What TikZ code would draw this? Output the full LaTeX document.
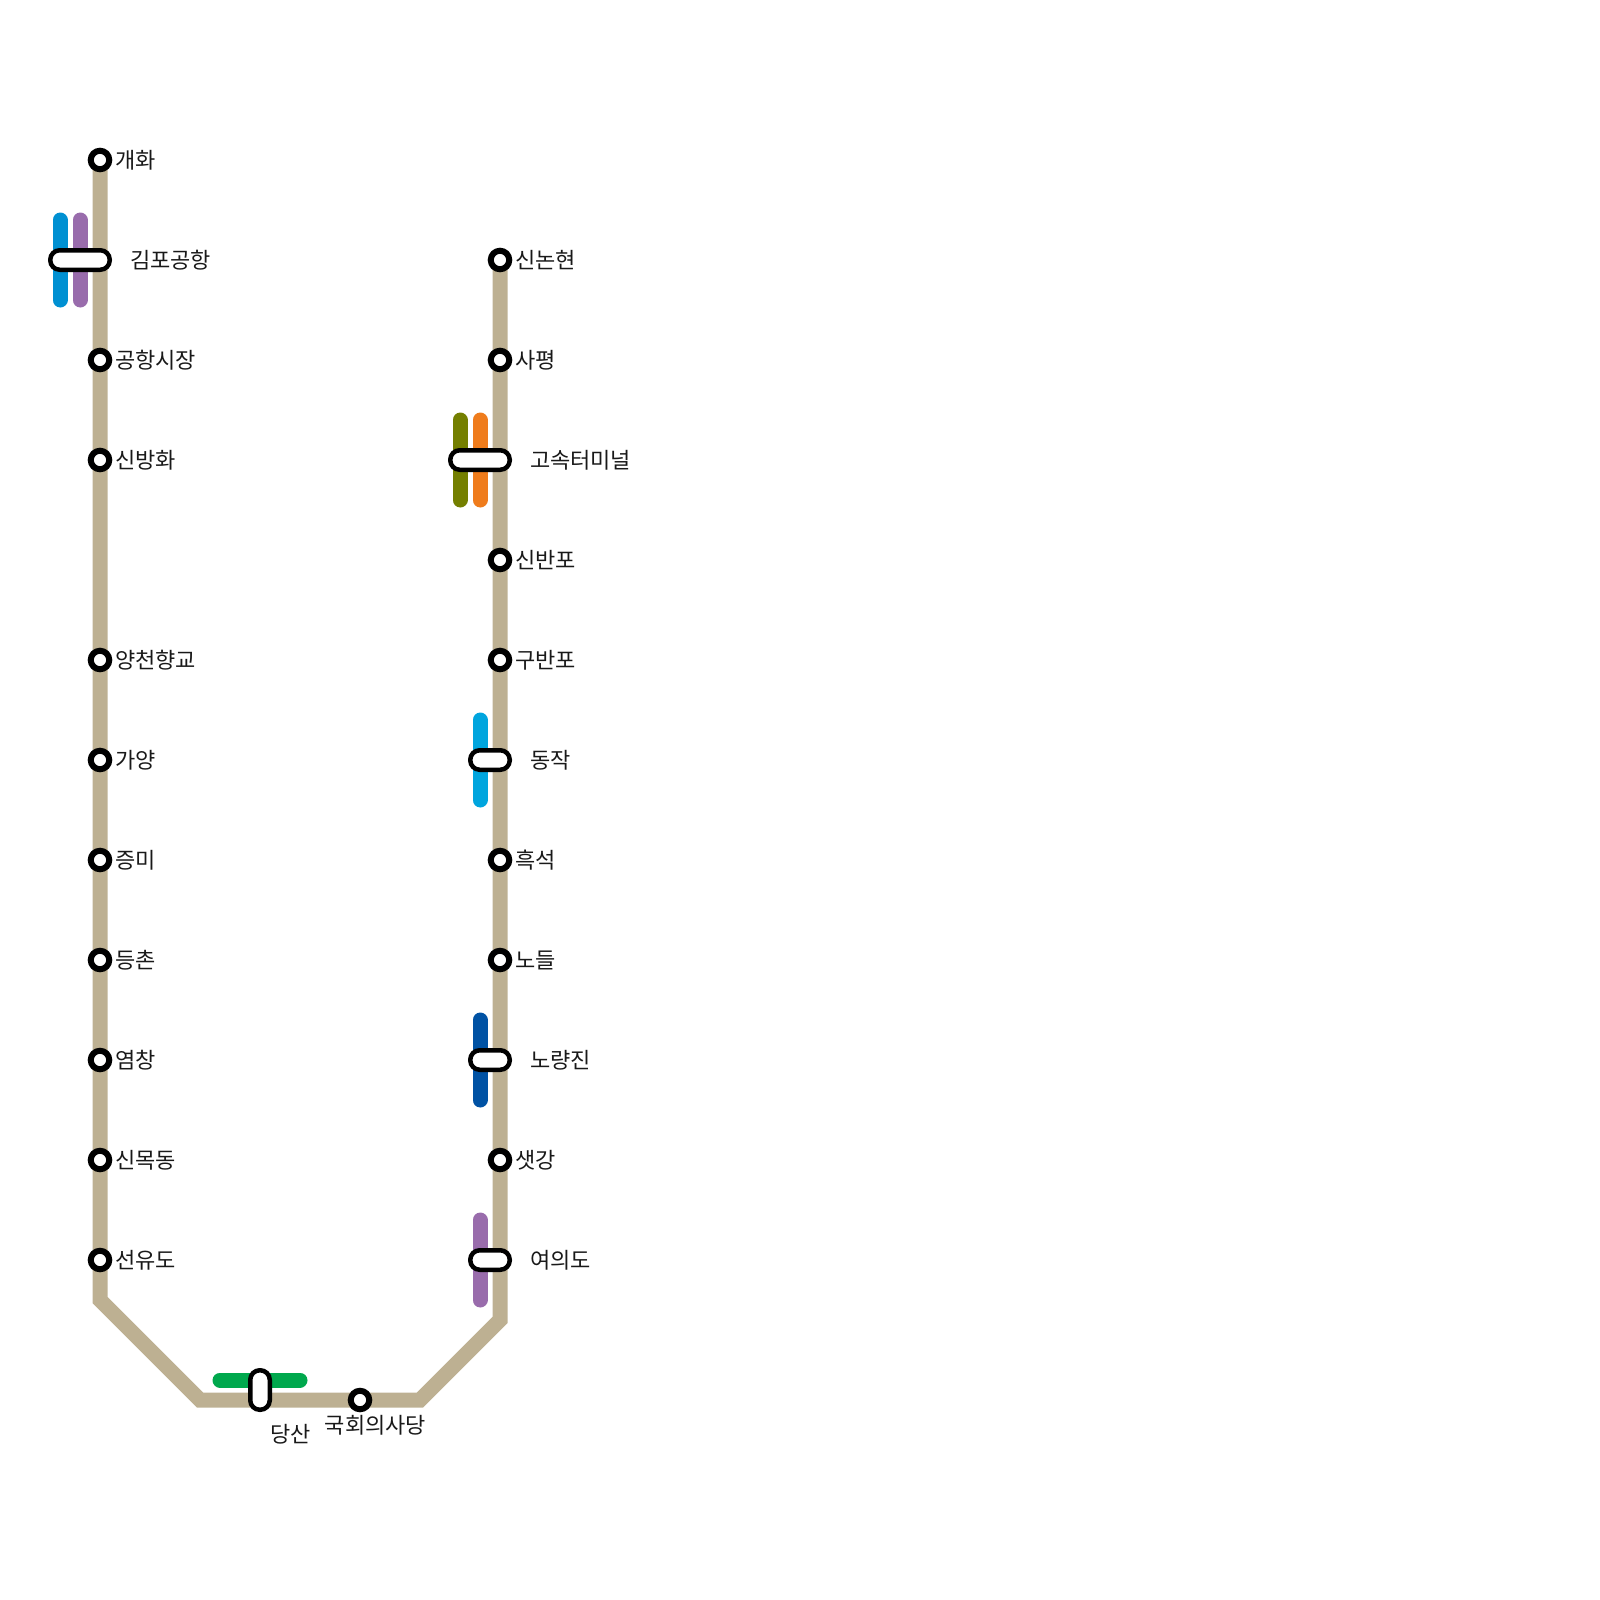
\documentclass[tikz,border=0pt]{standalone}
\usepackage{fontspec}
\setmainfont{Noto Sans CJK KR}
\usetikzlibrary{backgrounds}
\definecolor{lnnine}{HTML}{BDB092}
\definecolor{lnfive}{HTML}{996CAC}
\definecolor{lnair}{HTML}{0090D2}
\definecolor{lnthree}{HTML}{747F00}
\definecolor{lnseven}{HTML}{EF7C1C}
\definecolor{lnfour}{HTML}{00A5DE}
\definecolor{lnone}{HTML}{0052A4}
\definecolor{lntwo}{HTML}{00A84D}
\tikzset{
  x=1pt,y=-1pt,
  stn/.style={circle,draw=black,fill=white,line width=6pt,minimum size=18.5pt,inner sep=0pt,outer sep=0pt},
  xfer/.style={rectangle,rounded corners=9.5pt,draw=black,fill=white,line width=4.5pt,inner sep=0pt,outer sep=0pt},
  xferh/.style={xfer,minimum height=19.5pt},
  xferv/.style={xfer,minimum width=19.5pt},
  lbl/.style={anchor=west,inner sep=0pt,outer sep=0pt,font=\fontsize{22pt}{24pt}\selectfont,text=black!90},
  mainline/.style={line width=15pt,draw=lnnine,miter limit=10},
  branch/.style={line width=15pt,line cap=round},
}
\begin{document}
\begin{tikzpicture}
\useasboundingbox (0,0) rectangle (1600,1600);
% left column
\node[stn] (s1) at (100,160) {};
\node[xferh,minimum width=59.5pt] (x1) at (80,260) {};
\node[stn] (s2) at (100,360) {};
\node[stn] (s3) at (100,460) {};
\node[stn] (s4) at (100,660) {};
\node[stn] (s5) at (100,760) {};
\node[stn] (s6) at (100,860) {};
\node[stn] (s7) at (100,960) {};
\node[stn] (s8) at (100,1060) {};
\node[stn] (s9) at (100,1160) {};
\node[stn] (s10) at (100,1260) {};
% bottom
\node[xferv,minimum height=39.5pt] (x2) at (260,1390) {};
\node[stn] (s11) at (360,1400) {};
% right column
\node[xferh,minimum width=39.5pt] (x3) at (490,1260) {};
\node[stn] (s12) at (500,1160) {};
\node[xferh,minimum width=39.5pt] (x4) at (490,1060) {};
\node[stn] (s13) at (500,960) {};
\node[stn] (s14) at (500,860) {};
\node[xferh,minimum width=39.5pt] (x5) at (490,760) {};
\node[stn] (s15) at (500,660) {};
\node[stn] (s16) at (500,560) {};
\node[xferh,minimum width=59.5pt] (x6) at (480,460) {};
\node[stn] (s17) at (500,360) {};
\node[stn] (s18) at (500,260) {};
% bends and branch ends
\coordinate (b1) at (100,1300);
\coordinate (b2) at (200,1400);
\coordinate (b3) at (420,1400);
\coordinate (b4) at (500,1320);
\coordinate (a1t) at (60,220); \coordinate (a1b) at (60,300);
\coordinate (a2t) at (80,220); \coordinate (a2b) at (80,300);
\coordinate (c1l) at (220,1380); \coordinate (c1r) at (300,1380);
\coordinate (d1t) at (480,1220); \coordinate (d1b) at (480,1300);
\coordinate (d2t) at (480,1020); \coordinate (d2b) at (480,1100);
\coordinate (d3t) at (480,720); \coordinate (d3b) at (480,800);
\coordinate (d4t) at (460,420); \coordinate (d4b) at (460,500);
\coordinate (d5t) at (480,420); \coordinate (d5b) at (480,500);
\begin{scope}[on background layer]
\draw[mainline] (s1.center) -- (b1) -- (b2) -- (b3) -- (b4) -- (s18.center);
\draw[branch,lnair] (a1t) -- (a1b);
\draw[branch,lnfive] (a2t) -- (a2b);
\draw[branch,lntwo] (c1l) -- (c1r);
\draw[branch,lnfive] (d1t) -- (d1b);
\draw[branch,lnone] (d2t) -- (d2b);
\draw[branch,lnfour] (d3t) -- (d3b);
\draw[branch,lnthree] (d4t) -- (d4b);
\draw[branch,lnseven] (d5t) -- (d5b);
\end{scope}
% labels
\node[lbl] (t1) at (115,160) {개화};
\node[lbl] (tx1) at (130,260) {김포공항};
\node[lbl] (t2) at (115,360) {공항시장};
\node[lbl] (t3) at (115,460) {신방화};
\node[lbl] (t4) at (115,660) {양천향교};
\node[lbl] (t5) at (115,760) {가양};
\node[lbl] (t6) at (115,860) {증미};
\node[lbl] (t7) at (115,960) {등촌};
\node[lbl] (t8) at (115,1060) {염창};
\node[lbl] (t9) at (115,1160) {신목동};
\node[lbl] (t10) at (115,1260) {선유도};
\node[lbl] (tx2) at (270,1434.5) {당산};
\node[lbl,anchor=center] (t11) at (375.5,1425) {국회의사당};
\node[lbl] (tx3) at (530,1260) {여의도};
\node[lbl] (t12) at (515,1160) {샛강};
\node[lbl] (tx4) at (530,1060) {노량진};
\node[lbl] (t13) at (515,960) {노들};
\node[lbl] (t14) at (515,860) {흑석};
\node[lbl] (tx5) at (530,760) {동작};
\node[lbl] (t15) at (515,660) {구반포};
\node[lbl] (t16) at (515,560) {신반포};
\node[lbl] (tx6) at (530,460) {고속터미널};
\node[lbl] (t17) at (515,360) {사평};
\node[lbl] (t18) at (515,260) {신논현};
\end{tikzpicture}
\end{document}
